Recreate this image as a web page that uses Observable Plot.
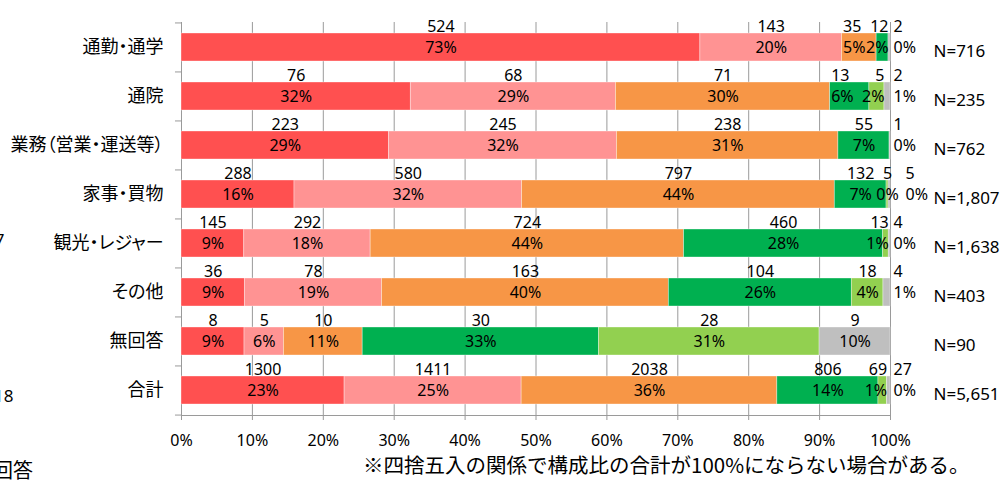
<!DOCTYPE html>
<html><head><meta charset="utf-8">
<script src="https://cdn.jsdelivr.net/npm/d3@7"></script>
<script src="https://cdn.jsdelivr.net/npm/@observablehq/plot@0.6"></script>
<style>
body{margin:0;background:#fff;width:1000px;height:481px;overflow:hidden;position:relative;font-family:"Noto Sans","Noto Sans CJK JP",sans-serif;color:#000;}
#chart svg text{font-feature-settings:"palt";}
.frag{position:absolute;white-space:nowrap;line-height:24px;}
#note{position:absolute;left:363px;top:452px;font-size:20.5px;line-height:24px;white-space:nowrap;font-family:"Noto Sans CJK JP","Noto Sans",sans-serif;}
</style></head><body>
<div id="chart"></div>
<div class="frag" style="left:-15px;top:228px;font-size:17px">17</div>
<div class="frag" style="left:-6px;top:384px;font-size:17px">18</div>
<div class="frag" style="left:-27px;top:458px;font-size:20px;font-family:'Noto Sans CJK JP'">無回答</div>
<div id="note">※四捨五入の関係で構成比の合計が100%にならない場合がある。</div>
<script>
// Categories (rows)
const categories = ["通勤・通学","通院","業務（営業・運送等）","家事・買物","観光・レジャー","その他","無回答","合計"];
// Series values (counts), one array per stacked segment, in row order
const series1 = [524, 76, 223, 288, 145, 36, 8, 1300];
const series2 = [143, 68, 245, 580, 292, 78, 5, 1411];
const series3 = [35, 71, 238, 797, 724, 163, 10, 2038];
const series4 = [12, 13, 55, 132, 460, 104, 30, 806];
const series5 = [0, 5, 0, 5, 13, 18, 28, 69];
const series6 = [2, 2, 1, 5, 4, 4, 9, 27];
const totals = [716, 235, 762, 1807, 1638, 403, 90, 5651];
const seriesKeys = ["s1","s2","s3","s4","s5","s6"];
const seriesColors = ["#FF5050","#FF9393","#F79646","#00B050","#92D050","#BFBFBF"];
const xTicks = [0,0.1,0.2,0.3,0.4,0.5,0.6,0.7,0.8,0.9,1];

const allSeries = [series1, series2, series3, series4, series5, series6];
const segs = [];
categories.forEach((cat, i) => {
  let acc = 0;
  const N = totals[i];
  allSeries.forEach((arr, s) => {
    const v = arr[i];
    const x1 = acc / N, x2 = (acc + v) / N;
    acc += v;
    segs.push({cat, s: seriesKeys[s], si: s, v, share: v / N, x1, x2, mid: (x1 + x2) / 2, row: i});
  });
});
// label groups: centred in segment; right-aligned to segment end for small inner segments;
// left-aligned when a small segment is followed by a right-aligned one;
// just right of the 100% line for tiny last segments
const isEnd = d => d && d.si < 5 && d.v > 0 && d.share < 0.03 && d.share >= 0.005;
const labels = segs.filter(d => d.v > 0).map(d => {
  let group = "mid", x = d.mid;
  const next = segs.find(e => e.row === d.row && e.si === d.si + 1);
  if (d.si === 5 && d.share < 0.05) {
    const prev = segs.find(e => e.row === d.row && e.si === 4);
    group = (prev.v > 0 && prev.share < 0.005) ? "outFar" : "out";
    x = 1;
  } else if (isEnd(d)) {
    group = "end"; x = d.x2;
  } else if (d.share < 0.06 && isEnd(next)) {
    group = "start"; x = d.x1;
  }
  return {...d, group, x};
});
const pct = d3.format(".0%");
const gridColor = "#9a9a9a";
const step = (415 - 22) / categories.length;
const labelMarks = [];
for (const [group, anchor, dx] of [["mid", "middle", 0], ["end", "end", 0], ["start", "start", 1], ["out", "start", 3], ["outFar", "start", 15]]) {
  const data = labels.filter(d => d.group === group);
  labelMarks.push(Plot.text(data, {x: "x", y: "cat", text: d => pct(d.share), textAnchor: anchor, dx, fontSize: 16, fill: "#000"}));
  labelMarks.push(Plot.text(data, {x: "x", y: "cat", text: d => String(d.v), textAnchor: anchor, dx, dy: -21, fontSize: 16, fill: "#000"}));
}

const chart = Plot.plot({
  width: 1000,
  height: 452,
  marginLeft: 181,
  marginRight: 110,
  marginTop: 22,
  marginBottom: 37,
  style: {fontFamily: '"Noto Sans","Noto Sans CJK JP",sans-serif', fontSize: "16px", color: "#000", background: "#fff"},
  x: {domain: [0, 1]},
  y: {domain: categories, paddingInner: 0.43, paddingOuter: 0.215},
  color: {domain: seriesKeys, range: seriesColors},
  marks: [
    Plot.ruleX(xTicks.slice(1), {stroke: gridColor, strokeWidth: 1}),
    Plot.ruleX([0], {stroke: gridColor, strokeWidth: 1}),
    Plot.frame({anchor: "bottom", stroke: gridColor}),
    Plot.ruleY(categories, {y: d => d, dy: -step / 2, x1: -0.0085, x2: 0, stroke: gridColor}),
    Plot.ruleY(categories.slice(-1), {y: d => d, dy: step / 2, x1: -0.0085, x2: 0, stroke: gridColor}),
    Plot.axisX({ticks: xTicks, tickFormat: pct, tickSize: 5, tickPadding: 14, stroke: gridColor, fill: "#000", fontSize: 16, label: null}),
    Plot.axisY({tickSize: 0, tickPadding: 18, fontSize: 18, fill: "#000", label: null}),
    Plot.barX(segs.filter(d => d.v > 0), {x1: "x1", x2: "x2", y: "cat", fill: "s", stroke: "#fff", strokeOpacity: 0.5, strokeWidth: 0.7}),
    ...labelMarks,
    Plot.text(categories, {x: () => 1, y: d => d, text: (d, i) => "N=" + d3.format(",")(totals[i]), textAnchor: "start", dx: 43, dy: 4, fontSize: 17, fill: "#000"})
  ]
});
document.getElementById("chart").append(chart);
</script>
</body></html>
